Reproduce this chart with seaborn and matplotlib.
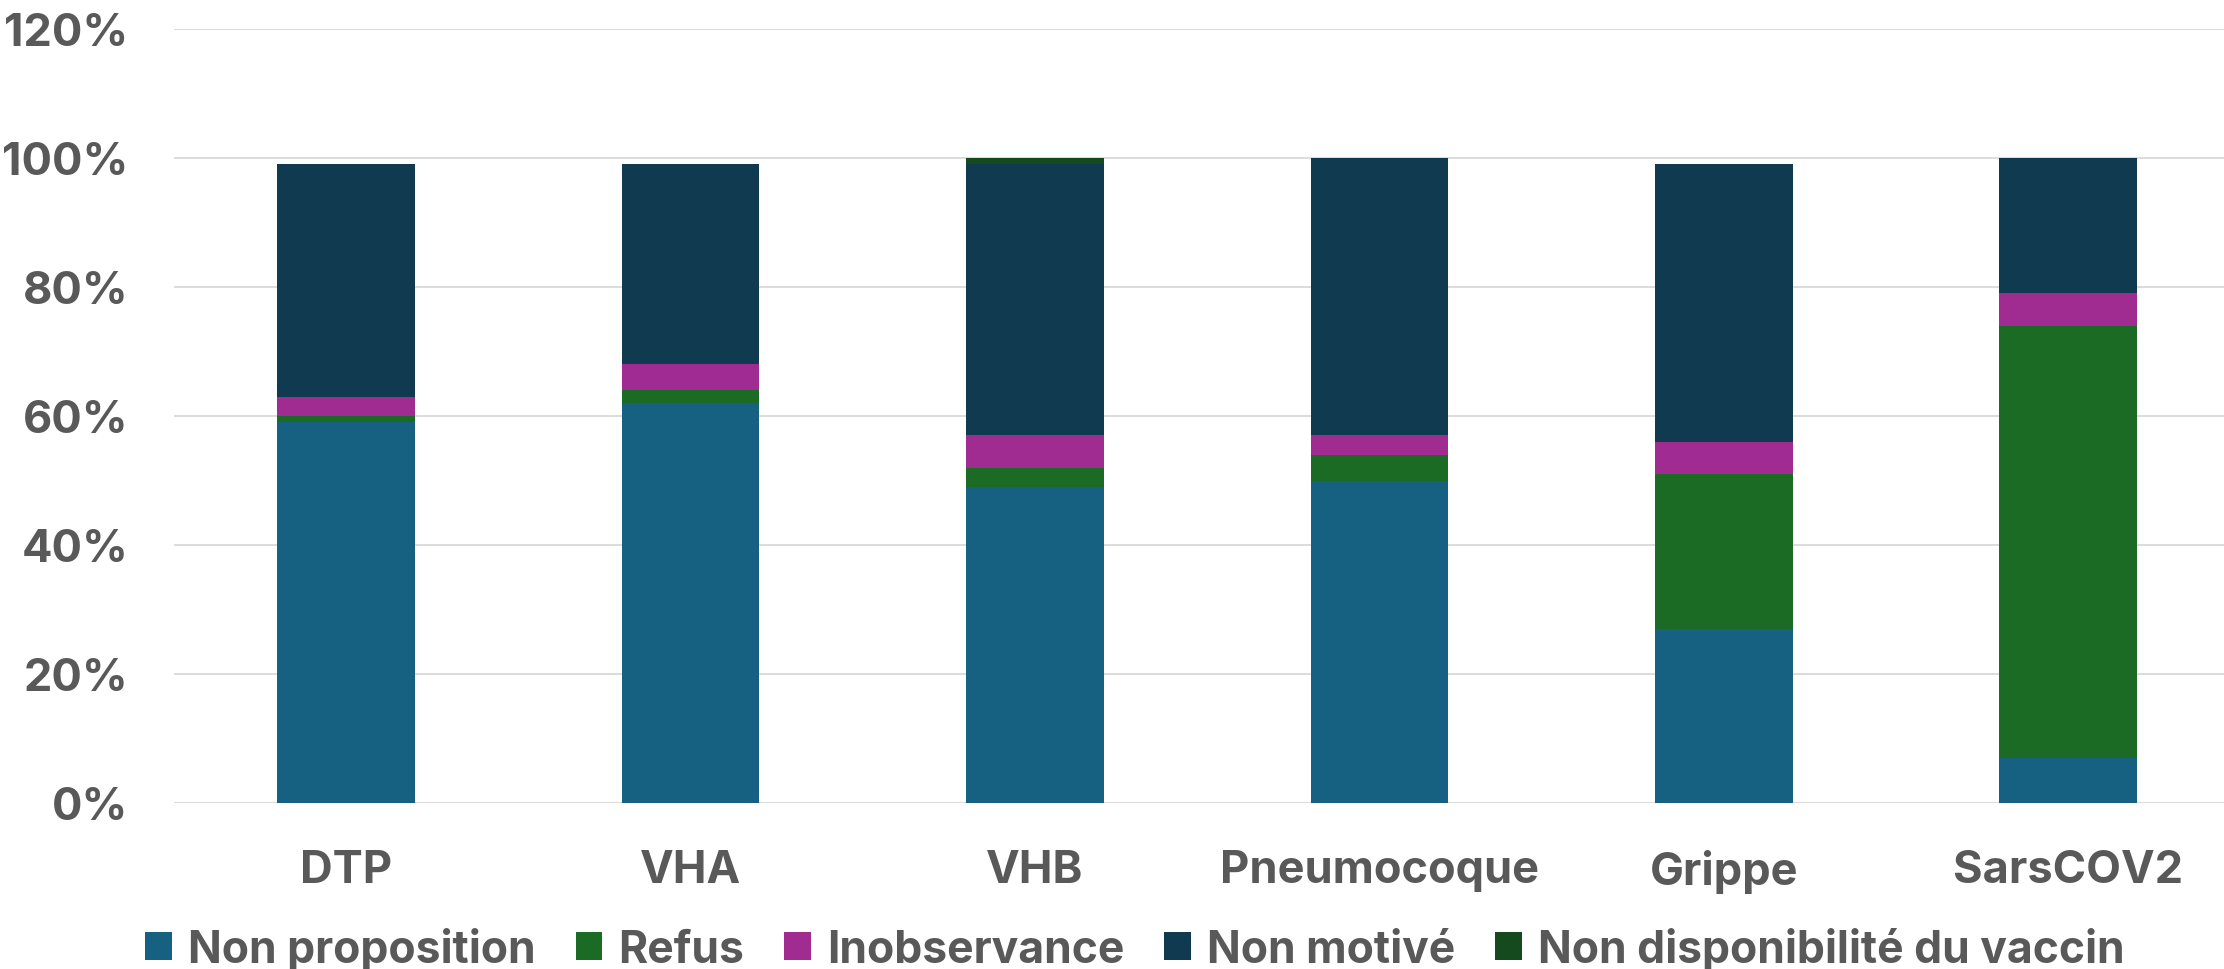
import numpy as np
import matplotlib
matplotlib.use("Agg")
import matplotlib.pyplot as plt
from matplotlib.patches import Patch
from matplotlib.ticker import PercentFormatter, MultipleLocator
import seaborn as sns

# Vaccines and reasons for non-vaccination (share of cases, %)
categories = ["DTP", "VHA", "VHB", "Pneumocoque", "Grippe", "SarsCOV2"]
non_proposition = [59, 62, 49, 50, 27, 7]
refus = [1, 2, 3, 4, 24, 67]
inobservance = [3, 4, 5, 3, 5, 5]
non_motive = [36, 31, 42, 43, 43, 21]
non_disponibilite = [0, 0, 1, 0, 0, 0]

series_names = ["Non proposition", "Refus", "Inobservance", "Non motivé",
                "Non disponibilité du vaccin"]
series_values = [non_proposition, refus, inobservance, non_motive, non_disponibilite]
series_colors = ["#166082", "#1B6B24", "#A02B91", "#0F3A50", "#154A1E"]

sns.set_theme(style="white")
plt.rcParams["font.family"] = ["Inter", "DejaVu Sans"]
plt.rcParams["font.weight"] = "bold"

text_color = "#595959"

fig = plt.figure(figsize=(22.24, 9.70), dpi=100)
ax = fig.add_axes([174 / 2224, 166 / 970, 2050 / 2224, 774 / 970])

# Stacked bars: draw running totals from the top segment down
cum = np.cumsum(np.array(series_values, dtype=float) / 100.0, axis=0)
for i in range(len(series_names) - 1, -1, -1):
    sns.barplot(x=categories, y=cum[i], color=series_colors[i], saturation=1,
                width=0.4, ax=ax, zorder=2, linewidth=0)

ax.set_ylim(0, 1.2)
ax.set_xlim(-0.5, -0.5 + 2050 / 344.4)
ax.yaxis.set_major_locator(MultipleLocator(0.2))
ax.yaxis.set_major_formatter(PercentFormatter(1.0, decimals=0))
ax.grid(axis="y", color="#D9D9D9", linewidth=1.3, zorder=0)
ax.set_axisbelow(True)
for s in ax.spines.values():
    s.set_visible(False)
ax.set_xlabel("")
ax.set_ylabel("")
ax.tick_params(axis="y", length=0, pad=33, labelsize=32.5, labelcolor=text_color)
ax.tick_params(axis="x", length=0, pad=33, labelsize=32.5, labelcolor=text_color)
for lab in ax.get_xticklabels() + ax.get_yticklabels():
    lab.set_fontweight("bold")

handles = [Patch(facecolor=c, edgecolor="none") for c in series_colors]
fig.legend(handles, series_names, loc="center", bbox_to_anchor=(0.5103, 1 - 950 / 970),
           ncol=5, frameon=False, labelcolor=text_color,
           handlelength=0.6, handleheight=0.6, handletextpad=0.36,
           columnspacing=0.9, prop={"weight": "bold", "size": 32})

fig.savefig("out.png", dpi=100)
